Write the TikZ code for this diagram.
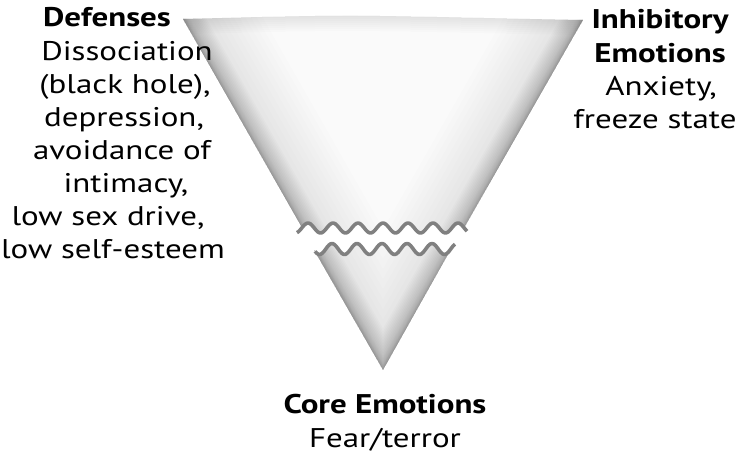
\documentclass[tikz,border=0pt]{standalone}
\usepackage{fontspec}
\setmainfont[FakeStretch=1.22]{PT Sans}
\definecolor{wavec}{RGB}{128,128,128}
\definecolor{glowc}{RGB}{60,60,60}
\definecolor{fillc}{RGB}{250,250,250}
\tikzset{
  lbl/.style={anchor=base, inner sep=0pt, font=\fontsize{27}{33}\selectfont},
  hdr/.style={lbl, font=\fontsize{27}{33}\selectfont\bfseries},
  wavestroke/.style={wavec, line width=3.6pt, line join=round},
  glowline/.style={glowc, opacity=0.02, line join=miter},
  softline/.style={glowc, opacity=0.007, line join=miter},
}
\begin{document}
\begin{tikzpicture}[x=1pt,y=-1pt]
\useasboundingbox (0,0) rectangle (744,455);
% ---------- upper piece ----------
\begin{scope}
  \clip (183,19) .. controls (260,17) and (330,15) .. (380,16) .. controls (450,17) and (520,19) .. (583,20)
  -- (464,228) -- plot[domain=464:302,samples=80,smooth] (\x,{228-5*cos(14.4*(\x-308))}) -- cycle;
  \fill[fillc] (170,0) rectangle (600,260);
  \foreach \w in {2,5,...,41,1,2,...,12}{
    \draw[glowline, line width=\w pt] (163,-16) -- (338,291);
    \draw[glowline, line width=\w pt] (603,-15) -- (428,292);
  }
  \foreach \w in {50,60,...,140}{
    \draw[softline, line width=\w pt] (163,-16) -- (338,291);
    \draw[softline, line width=\w pt] (603,-15) -- (428,292);
  }
  \foreach \w in {2,6,...,30}{
    \draw[glowc, opacity=0.016, line width=\w pt] (150,19) -- (183,19) .. controls (260,17) and (330,15) .. (380,16) .. controls (450,17) and (520,19) .. (583,20) -- (620,20);
  }
\end{scope}
% ---------- lower piece ----------
\begin{scope}
  \clip plot[domain=314:452,samples=60,smooth] (\x,{249-5.5*cos(14.4*(\x-332))}) -- (383,370) -- cycle;
  \fill[fillc] (300,230) rectangle (470,380);
  \foreach \w in {2,5,...,41,1,2,...,12}{
    \draw[glowline, line width=\w pt] (284,196) -- (383,370) -- (482,196);
  }
  \foreach \w in {50,60,...,140}{
    \draw[softline, line width=\w pt] (284,196) -- (383,370) -- (482,196);
  }
\end{scope}
% ---------- waves ----------
\draw[wavestroke] plot[domain=297:467,samples=90,smooth] (\x,{228-5*cos(14.4*(\x-308))});
\draw[wavestroke] plot[domain=315:455,samples=80,smooth] (\x,{249-5.5*cos(14.4*(\x-332))});
% ---------- left text ----------
\node[hdr] (def) at (107,27) {Defenses};
\node[lbl] (d1) at (127,60) {Dissociation};
\node[lbl] (d2) at (125,93) {(black hole),};
\node[lbl] (d3) at (124,126) {depression,};
\node[lbl] (d4) at (122,159) {avoidance of};
\node[lbl] (d5) at (126,192) {intimacy,};
\node[lbl] (d6) at (108,225) {low sex drive,};
\node[lbl] (d7) at (113,258) {low self-esteem};
% ---------- right text ----------
\node[hdr] (inh1) at (660,28) {Inhibitory};
\node[hdr] (inh2) at (660,62) {Emotions};
\node[lbl] (i1) at (661,95) {Anxiety,};
\node[lbl] (i2) at (655,128) {freeze state};
% ---------- bottom text ----------
\node[hdr] (core) at (385,413) {Core Emotions};
\node[lbl] (c1) at (385,447) {Fear/terror};
\end{tikzpicture}
\end{document}
